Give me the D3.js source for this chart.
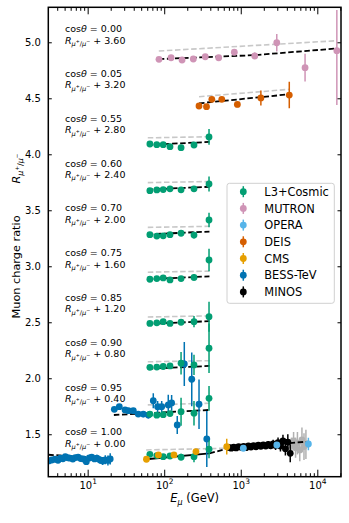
<!DOCTYPE html>
<meta charset="utf-8">
<style>
body { margin: 0; background: #fff; }
svg { font-family: "DejaVu Sans", sans-serif; }
.frame { fill: none; stroke: #000; stroke-width: 1.5; }
.axis path.domain { display: none; }
.axis line { stroke: #000; stroke-width: 1; }
.axis text { font-size: 10px; fill: #000; font-family: "DejaVu Sans", sans-serif; }
.model { fill: none; stroke: #000; stroke-width: 1.8; stroke-dasharray: 5.5 2.6; }
.model-alt { fill: none; stroke: #c8c8c8; stroke-width: 1.6; stroke-dasharray: 5.5 2.6; }
.model-solid { fill: none; stroke: #000; stroke-width: 1.8; }
.note { font-size: 9.5px; fill: #000; }
.legend text { font-size: 11.4px; }
</style>
<body>
<script src="https://d3js.org/d3.v7.min.js"></script>
<script>

var W = 349, H = 523,
    plotLeft = 48.3, plotRight = 341, plotTop = 7.3, plotBottom = 476.7;

// zenith bins and the vertical shift applied to each
var panelCos = ["0.00", "0.05", "0.55", "0.60", "0.70", "0.75", "0.85", "0.90", "0.95", "1.00"];
var panelOffset = [3.60, 3.20, 2.80, 2.40, 2.00, 1.60, 1.20, 0.80, 0.40, 0.00];

// L3+Cosmic, one row per panel (cos 0.55 ... 1.00)
var l3cPanel = [2, 3, 4, 5, 6, 7, 8, 9];
var l3cEnergy = [65, 80, 97, 119, 166, 245, 385];
var l3cRatio = [
  [1.292, 1.286, 1.286, 1.268, 1.259, 1.283, 1.355],
  [1.275, 1.282, 1.285, 1.292, 1.283, 1.292, 1.335],
  [1.282, 1.270, 1.272, 1.282, 1.295, 1.279, 1.413],
  [1.284, 1.290, 1.296, 1.278, 1.290, 1.300, 1.456],
  [1.290, 1.295, 1.305, 1.290, 1.300, 1.305, 1.350],
  [1.298, 1.300, 1.305, 1.310, 1.334, 1.319, 1.468],
  [1.280, 1.270, 1.275, 1.285, 1.302, 1.288, 1.421],
  [1.321, 1.310, 1.300, 1.306, 1.295, 1.300, 1.366]
];
var l3cError = [
  [0.008, 0.008, 0.009, 0.010, 0.012, 0.020, 0.070],
  [0.008, 0.008, 0.009, 0.010, 0.012, 0.020, 0.067],
  [0.008, 0.008, 0.009, 0.010, 0.015, 0.030, 0.065],
  [0.008, 0.008, 0.009, 0.010, 0.015, 0.030, 0.100],
  [0.008, 0.008, 0.009, 0.010, 0.020, 0.050, 0.134],
  [0.010, 0.010, 0.010, 0.015, 0.100, 0.090, 0.220],
  [0.010, 0.010, 0.010, 0.015, 0.125, 0.110, 0.110],
  [0.010, 0.010, 0.010, 0.015, 0.030, 0.050, 0.080]
];

// [E (GeV), ratio, error] or [E, ratio, errDown, errUp]
var mutron = [[85.5, 1.248, 0.012], [123, 1.262, 0.012], [171, 1.242, 0.012], [240, 1.251, 0.013],
  [344, 1.271, 0.015], [515, 1.262, 0.018], [824, 1.311, 0.020], [1523, 1.278, 0.030],
  [2955, 1.396, 0.078], [6920, 1.173, 0.124], [18000, 1.325, 0.485, 0.363]];
var deis = [[285, 1.231, 0.015], [357, 1.225, 0.015], [419, 1.291, 0.018], [565, 1.291, 0.020],
  [903, 1.245, 0.025], [1832, 1.303, 0.067], [4305, 1.329, 0.119]];
var bessHigh = [[22.3, 1.323, 0.02], [25.9, 1.346, 0.02], [30.8, 1.317, 0.02], [34.0, 1.311, 0.022],
  [39.5, 1.311, 0.024], [45.8, 1.280, 0.026], [53.3, 1.280, 0.028], [62, 1.271, 0.03],
  [72, 1.400, 0.067], [82, 1.346, 0.05], [92.7, 1.346, 0.05], [113, 1.362, 0.09],
  [125, 1.380, 0.07], [148, 1.183, 0.08], [183, 1.728, 0.196], [229, 1.591, 0.24],
  [285, 1.368, 0.22], [360, 1.058, 0.25]];
var bessLow = [[3.1, 1.262, 0.012], [3.4, 1.270, 0.012], [3.75, 1.277, 0.012], [4.1, 1.268, 0.013],
  [4.4, 1.286, 0.013], [4.75, 1.281, 0.014], [5.1, 1.300, 0.014], [5.5, 1.290, 0.015],
  [5.9, 1.286, 0.015], [6.4, 1.279, 0.016], [6.9, 1.292, 0.017], [7.5, 1.295, 0.018],
  [8.1, 1.283, 0.019], [8.8, 1.279, 0.020], [9.6, 1.255, 0.022], [10.5, 1.288, 0.024],
  [11.3, 1.295, 0.026], [12.3, 1.280, 0.028], [13.2, 1.286, 0.030], [14.5, 1.270, 0.033],
  [15.7, 1.262, 0.036], [17.0, 1.272, 0.040], [18.4, 1.266, 0.045], [19.7, 1.280, 0.050]];
var cms = [[58.6, 1.277, 0.01], [84, 1.315, 0.01], [134, 1.315, 0.01], [260, 1.345, 0.015], [656, 1.389, 0.07]];
var opera = [[1080, 1.375, 0.012], [2960, 1.404, 0.02], [7650, 1.413, 0.055]];
var minos = [[700, 1.382, 0.012], [750, 1.376, 0.012], [810, 1.385, 0.012], [870, 1.378, 0.013],
  [940, 1.390, 0.013], [1010, 1.383, 0.014], [1090, 1.392, 0.014], [1170, 1.380, 0.015],
  [1260, 1.395, 0.016], [1360, 1.386, 0.017], [1470, 1.398, 0.018], [1580, 1.388, 0.019],
  [1700, 1.402, 0.020], [1830, 1.392, 0.022], [1970, 1.405, 0.024], [2120, 1.395, 0.026],
  [2290, 1.410, 0.030], [2460, 1.398, 0.032], [2650, 1.415, 0.036], [2850, 1.400, 0.040],
  [3070, 1.425, 0.045], [3300, 1.395, 0.050], [3560, 1.440, 0.055], [3830, 1.370, 0.060],
  [4120, 1.430, 0.070], [4430, 1.330, 0.080]];
var minosFaint = [[4600, 1.400, 0.07], [4900, 1.440, 0.08], [5200, 1.380, 0.09], [5500, 1.420, 0.10],
  [5900, 1.360, 0.10], [6300, 1.450, 0.11], [6700, 1.390, 0.12], [7100, 1.410, 0.13]];

// model curves [E, ratio]
var l3cModel = [[61, 1.285], [390, 1.310]];
var l3cModelAlt = [[61, 1.347], [390, 1.357]];
var mutronModel = [[85, 1.250], [1500, 1.285], [18000, 1.345]];
var mutronModelAlt = [[85, 1.322], [18000, 1.414]];
var deisModel = [[285, 1.255], [4300, 1.336]];
var deisModelAlt = [[285, 1.314], [4300, 1.380]];
var bessHighModel = [[22, 1.272], [390, 1.317]];
var bessHighModelAlt = [[61, 1.362], [390, 1.377]];
var bessLowModel = [[3.06, 1.317], [19.7, 1.283]];
var verticalFit = [[58, 1.277], [390, 1.330]];
var verticalModel = [[390, 1.330], [700, 1.375], [7700, 1.435]];
var verticalModelAlt = [[58, 1.360], [650, 1.375]];

var legendNames = ["L3+Cosmic", "MUTRON", "OPERA", "DEIS", "CMS", "BESS-TeV", "MINOS"];
var legendColors = ["#029e73", "#cf94b6", "#56b4e9", "#d55e00", "#e69f00", "#0173b2", "#000000"];

var yTicks = [1.5, 2.0, 2.5, 3.0, 3.5, 4.0, 4.5, 5.0];
var xTicks = [10, 100, 1000, 10000];

var x = d3.scaleLog().domain([3.06, 20400]).range([plotLeft, plotRight]);
var y = d3.scaleLinear().domain([1.121, 5.3125]).range([plotBottom, plotTop]);

var svg = d3.select("body").append("svg").attr("width", W).attr("height", H);

svg.append("clipPath").attr("id", "clip")
  .append("rect").attr("x", plotLeft).attr("y", plotTop)
  .attr("width", plotRight - plotLeft).attr("height", plotBottom - plotTop);

var plot = svg.append("g").attr("clip-path", "url(#clip)");

function drawModel(pts, off, cls) {
  plot.append("path").datum(pts).attr("class", cls)
    .attr("d", d3.line().x(function(d) { return x(d[0]); }).y(function(d) { return y(d[1] + off); }));
}

function drawSeries(pts, off, color, alpha) {
  var g = plot.append("g").attr("opacity", alpha || 1);
  g.selectAll("line").data(pts).join("line")
    .attr("x1", function(d) { return x(d[0]); })
    .attr("x2", function(d) { return x(d[0]); })
    .attr("y1", function(d) { return y(d[1] + off - d[2]); })
    .attr("y2", function(d) { return y(d[1] + off + (d.length > 3 ? d[3] : d[2])); })
    .attr("stroke", color).attr("stroke-width", 1.5);
  g.selectAll("circle").data(pts).join("circle")
    .attr("cx", function(d) { return x(d[0]); })
    .attr("cy", function(d) { return y(d[1] + off); })
    .attr("r", 3.4).attr("fill", color);
}

// models
l3cPanel.forEach(function(p, i) {
  if (i < 6) {
    drawModel(l3cModelAlt, panelOffset[p], "model-alt");
    drawModel(l3cModel, panelOffset[p], "model");
  }
});
drawModel(mutronModelAlt, panelOffset[0], "model-alt");
drawModel(mutronModel, panelOffset[0], "model");
drawModel(deisModelAlt, panelOffset[1], "model-alt");
drawModel(deisModel, panelOffset[1], "model");
drawModel(bessHighModelAlt, panelOffset[8], "model-alt");
drawModel(bessHighModel, panelOffset[8], "model");
drawModel(verticalModelAlt, 0, "model-alt");
drawModel(bessLowModel, 0, "model");
drawModel(verticalModel, 0, "model");
drawModel(verticalFit, 0, "model-solid");

// data
drawSeries(minosFaint, 0, "#000", 0.3);
drawSeries(minos, 0, "#000");
drawSeries(bessLow, 0, legendColors[5]);
drawSeries(bessHigh, panelOffset[8], legendColors[5]);
l3cPanel.forEach(function(p, i) {
  var pts = l3cEnergy.map(function(e, j) { return [e, l3cRatio[i][j], l3cError[i][j]]; });
  drawSeries(pts, panelOffset[p], legendColors[0]);
});
drawSeries(cms, 0, legendColors[4]);
drawSeries(deis, panelOffset[1], legendColors[3]);
drawSeries(mutron, panelOffset[0], legendColors[1]);
drawSeries(opera, 0, legendColors[2]);

// axes
var minor = [];
[1, 10, 100, 1000, 10000].forEach(function(dec) {
  for (var k = 2; k < 10; k++) {
    var v = dec * k;
    if (v > x.domain()[0] && v < x.domain()[1]) minor.push(v);
  }
});

svg.append("g").attr("class", "axis").attr("transform", "translate(0," + plotBottom + ")")
  .call(d3.axisBottom(x).tickValues(minor).tickSize(-3.5).tickFormat(""));
svg.append("g").attr("class", "axis").attr("transform", "translate(0," + plotTop + ")")
  .call(d3.axisTop(x).tickValues(minor).tickSize(-3.5).tickFormat(""));
svg.append("g").attr("class", "axis").attr("transform", "translate(0," + plotTop + ")")
  .call(d3.axisTop(x).tickValues(xTicks).tickSize(-7).tickFormat(""));

var xAxis = svg.append("g").attr("class", "axis").attr("transform", "translate(0," + plotBottom + ")")
  .call(d3.axisBottom(x).tickValues(xTicks).tickSize(-7).tickFormat(""));
xAxis.selectAll(".tick text").each(function(d) {
  var t = d3.select(this).attr("y", 12.3).attr("dy", null).attr("font-size", "10.5px");
  t.append("tspan").text("10");
  t.append("tspan").attr("dy", -4.5).attr("font-size", "7.5px").text(Math.round(Math.log10(d)));
});

svg.append("g").attr("class", "axis").attr("transform", "translate(" + plotLeft + ",0)")
  .call(d3.axisLeft(y).tickValues(yTicks).tickSize(-3.5).tickPadding(7.5).tickFormat(d3.format(".1f")))
  .selectAll("text").attr("font-size", "10.5px");
svg.append("g").attr("class", "axis").attr("transform", "translate(" + plotRight + ",0)")
  .call(d3.axisRight(y).tickValues(yTicks).tickSize(-3.5).tickFormat(""));

svg.append("rect").attr("class", "frame")
  .attr("x", plotLeft).attr("y", plotTop)
  .attr("width", plotRight - plotLeft).attr("height", plotBottom - plotTop);

// R_{mu+/mu-} written with tspans
function addRatioSymbol(t, f) {
  t.append("tspan").attr("font-style", "italic").text("R");
  t.append("tspan").attr("font-style", "italic").attr("font-size", (f * 0.7) + "px")
    .attr("dy", f * 0.25).text("\u03bc");
  t.append("tspan").attr("font-size", (f * 0.5) + "px").attr("dy", -f * 0.3).text("+");
  t.append("tspan").attr("font-size", (f * 0.7) + "px").attr("dy", f * 0.3).text("/");
  t.append("tspan").attr("font-style", "italic").attr("font-size", (f * 0.7) + "px").text("\u03bc");
  t.append("tspan").attr("font-size", (f * 0.5) + "px").attr("dy", -f * 0.3).text("\u2212");
  return f * 0.05;
}

// panel notes
panelCos.forEach(function(c, i) {
  var yc = y(panelOffset[i] + 1.52);
  var t1 = svg.append("text").attr("class", "note").attr("x", 65).attr("y", yc + 3.4);
  t1.append("tspan").text("cos");
  t1.append("tspan").attr("font-style", "italic").text("\u03b8");
  t1.append("tspan").text(" = " + c);
  var t2 = svg.append("text").attr("class", "note").attr("x", 65).attr("y", yc + 14.7);
  var back = addRatioSymbol(t2, 9.5);
  t2.append("tspan").attr("dy", back).text(" + " + panelOffset[i].toFixed(2));
});

// axis labels
var xl = svg.append("text").attr("x", (plotLeft + plotRight) / 2).attr("y", 502)
  .attr("text-anchor", "middle").attr("font-size", "11.5px");
xl.append("tspan").attr("font-style", "italic").text("E");
xl.append("tspan").attr("font-style", "italic").attr("font-size", "8px").attr("dy", 2.5).text("\u03bc");
xl.append("tspan").attr("dy", -2.5).text(" (GeV)");

svg.append("text").attr("transform", "translate(20,318.5) rotate(-90)")
  .attr("font-size", "11.3px").text("Muon charge ratio");
var yr = svg.append("text").attr("transform", "translate(20,183.5) rotate(-90)")
  .attr("font-size", "11.3px");
addRatioSymbol(yr, 11.3);

// legend
var legend = svg.append("g").attr("class", "legend");
legend.append("rect").attr("x", 227).attr("y", 183.3).attr("width", 107.3).attr("height", 120)
  .attr("rx", 2.5).attr("fill", "#fff").attr("fill-opacity", 0.8)
  .attr("stroke", "#d0d0d0").attr("stroke-width", 1);
var rows = legend.selectAll("g.row").data(legendNames).join("g")
  .attr("class", "row")
  .attr("transform", function(d, i) { return "translate(243.3," + (191.7 + i * 16.7) + ")"; });
rows.append("line").attr("y1", -5.5).attr("y2", 5.5)
  .attr("stroke", function(d, i) { return legendColors[i]; }).attr("stroke-width", 1.5);
rows.append("circle").attr("r", 3.4).attr("fill", function(d, i) { return legendColors[i]; });
rows.append("text").attr("x", 21).attr("dy", "0.36em").text(function(d) { return d; });

</script>
</body>
